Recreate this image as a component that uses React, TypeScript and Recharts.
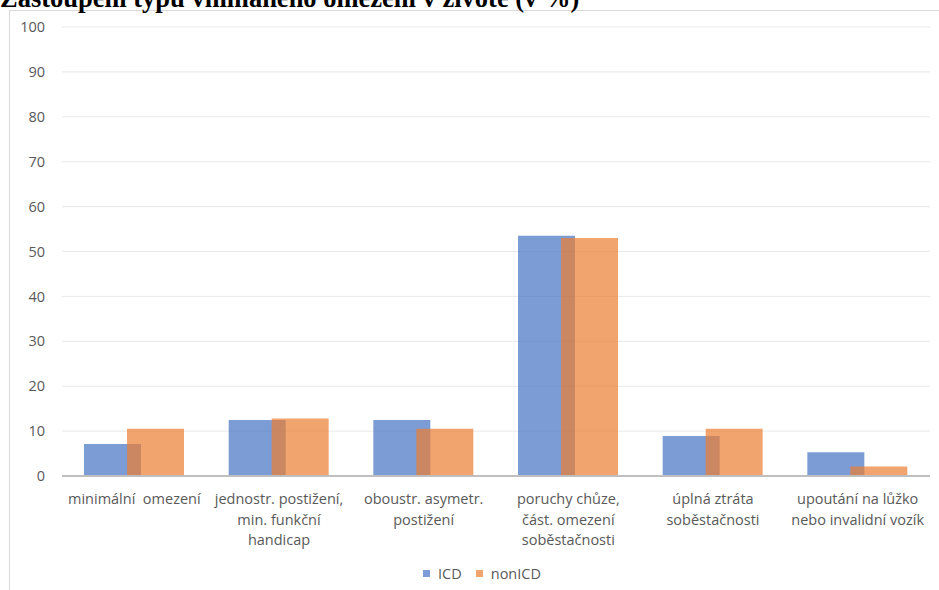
import { Bar, BarChart, CartesianGrid, Legend, XAxis, YAxis } from "recharts";

const CATEGORIES = [
  "minimální  omezení",
  "jednostr. postižení,\nmin. funkční\nhandicap",
  "oboustr. asymetr.\npostižení",
  "poruchy chůze,\nčást. omezení\nsoběstačnosti",
  "úplná ztráta\nsoběstačnosti",
  "upoutání na lůžko\nnebo invalidní vozík",
];
const ICD = [7.1, 12.5, 12.5, 53.5, 8.9, 5.3];
const NON_ICD = [10.5, 12.8, 10.5, 53.0, 10.5, 2.1];
const Y_TICKS = [0, 10, 20, 30, 40, 50, 60, 70, 80, 90, 100];

const data = CATEGORIES.map((name, i) => ({ name, ICD: ICD[i], nonICD: NON_ICD[i] }));

const FONT = "'Open Sans', 'Noto Sans', sans-serif";
const BLUE = "rgba(68, 114, 196, 0.7)";
const ORANGE = "rgba(237, 125, 49, 0.7)";

function CategoryTick({ x, y, payload }: any) {
  const lines = String(payload.value).split("\n");
  return (
    <text x={x} y={y} textAnchor="middle" fill="#595959" fontSize={14.5} fontFamily={FONT}>
      {lines.map((line, i) => (
        <tspan key={i} x={x} dy={i === 0 ? 28 : 20.5} style={{ whiteSpace: "pre" }}>
          {line}
        </tspan>
      ))}
    </text>
  );
}

function LegendBox({ payload }: any) {
  return (
    <div style={{ display: "flex", justifyContent: "center", alignItems: "center", gap: 14 }}>
      {(payload || []).map((item: any) => (
        <div key={item.value} style={{ display: "flex", alignItems: "center" }}>
          <span style={{ width: 7, height: 7, background: item.color, marginRight: 8 }} />
          <span style={{ color: "#595959", fontFamily: FONT, fontSize: 14.5 }}>{item.value}</span>
        </div>
      ))}
    </div>
  );
}

export default function App() {
  return (
    <div style={{ position: "absolute", left: 0, top: 0, width: 939, height: 590, overflow: "hidden", background: "#fff" }}>
      <div
        style={{
          position: "absolute",
          left: 9,
          top: 10,
          width: 946,
          height: 600,
          border: "1px solid #D9D9D9",
        }}
      >
        <BarChart
          width={946}
          height={580}
          data={data}
          margin={{ top: 16, right: 26, bottom: 0, left: 0 }}
          barGap={-14}
          barSize={57}
        >
          <CartesianGrid vertical={false} stroke="#E8E8E8" />
          <XAxis
            dataKey="name"
            interval={0}
            height={75}
            tickLine={false}
            tickSize={0}
            tickMargin={0}
            axisLine={{ stroke: "#BFBFBF", strokeWidth: 2 }}
            tick={<CategoryTick />}
          />
          <YAxis
            width={52}
            domain={[0, 100]}
            ticks={Y_TICKS}
            axisLine={false}
            tickLine={false}
            tickSize={0}
            tickMargin={17}
            tick={{ fill: "#595959", fontSize: 14.5, fontFamily: FONT }}
          />
          <Legend
            verticalAlign="bottom"
            height={40}
            wrapperStyle={{ bottom: -13, left: 12 }}
            content={<LegendBox />}
          />
          <Bar dataKey="ICD" name="ICD" fill={BLUE} isAnimationActive={false} />
          <Bar dataKey="nonICD" name="nonICD" fill={ORANGE} isAnimationActive={false} />
        </BarChart>
      </div>
      <div
        style={{
          position: "absolute",
          left: 0,
          top: -17,
          fontFamily: "'Liberation Serif', 'Times New Roman', serif",
          fontWeight: "bold",
          fontSize: 26.5,
          whiteSpace: "nowrap",
          color: "#000",
        }}
      >
        Zastoupení typu vnímaného omezení v životě (v %)
      </div>
    </div>
  );
}
